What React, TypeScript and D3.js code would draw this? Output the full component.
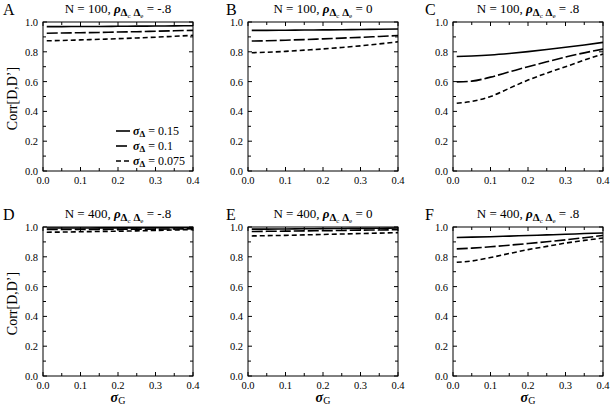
import { scaleLinear, line, curveMonotoneX, range } from 'd3';

const sigmaG = [0.01, 0.05, 0.1, 0.15, 0.2, 0.25, 0.3, 0.35, 0.4];

// one series per sigma_Delta: 0.15 (solid), 0.1 (long dash), 0.075 (short dash)
const aSolid = [0.969, 0.969, 0.970, 0.970, 0.971, 0.972, 0.973, 0.974, 0.975];
const aLong = [0.925, 0.926, 0.928, 0.930, 0.933, 0.935, 0.938, 0.941, 0.944];
const aShort = [0.874, 0.876, 0.880, 0.884, 0.888, 0.893, 0.898, 0.904, 0.910];

const bSolid = [0.944, 0.944, 0.945, 0.946, 0.947, 0.948, 0.950, 0.951, 0.953];
const bLong = [0.872, 0.874, 0.878, 0.882, 0.887, 0.892, 0.897, 0.903, 0.909];
const bShort = [0.794, 0.797, 0.803, 0.811, 0.819, 0.829, 0.840, 0.853, 0.867];

const cSolid = [0.768, 0.772, 0.779, 0.789, 0.801, 0.815, 0.830, 0.846, 0.863];
const cLong = [0.598, 0.603, 0.630, 0.665, 0.700, 0.733, 0.765, 0.793, 0.818];
const cShort = [0.455, 0.467, 0.500, 0.555, 0.610, 0.657, 0.700, 0.744, 0.785];

const dSolid = [0.993, 0.993, 0.993, 0.994, 0.994, 0.994, 0.995, 0.995, 0.995];
const dLong = [0.983, 0.983, 0.984, 0.984, 0.985, 0.986, 0.986, 0.987, 0.988];
const dShort = [0.965, 0.966, 0.968, 0.970, 0.972, 0.974, 0.977, 0.980, 0.983];

const eSolid = [0.986, 0.986, 0.987, 0.988, 0.989, 0.990, 0.991, 0.992, 0.993];
const eLong = [0.970, 0.971, 0.972, 0.974, 0.975, 0.977, 0.979, 0.980, 0.982];
const eShort = [0.940, 0.942, 0.944, 0.947, 0.950, 0.953, 0.956, 0.959, 0.962];

const fSolid = [0.930, 0.932, 0.935, 0.939, 0.943, 0.947, 0.951, 0.956, 0.960];
const fLong = [0.853, 0.858, 0.867, 0.878, 0.889, 0.901, 0.914, 0.928, 0.943];
const fShort = [0.763, 0.772, 0.795, 0.822, 0.848, 0.870, 0.892, 0.910, 0.926];

const panelLetters = ['A', 'B', 'C', 'D', 'E', 'F'];
const panelN = ['100', '100', '100', '400', '400', '400'];
const panelRho = ['-.8', '0', '.8', '-.8', '0', '.8'];
const panelSeries = [
  [aSolid, aLong, aShort],
  [bSolid, bLong, bShort],
  [cSolid, cLong, cShort],
  [dSolid, dLong, dShort],
  [eSolid, eLong, eShort],
  [fSolid, fLong, fShort],
];

const legendLabels = ['0.15', '0.1', '0.075'];
const dashes = ['none', '11,3', '5,3'];

const xTicks = [0, 0.1, 0.2, 0.3, 0.4];
const yTicks = [0, 0.2, 0.4, 0.6, 0.8, 1.0];

// layout
const lefts = [43, 248, 453];
const tops = [22, 227];
const letterX = [3, 226, 425];
const W = 150;
const H = 149;
const font = '"Liberation Serif", "Times New Roman", serif';

const Panel = ({ idx }: { idx: number }) => {
  const col = idx % 3;
  const row = Math.floor(idx / 3);
  const x0 = lefts[col];
  const y0 = tops[row];
  const x = scaleLinear().domain([0, 0.4]).range([x0, x0 + W]);
  const y = scaleLinear().domain([0, 1]).range([y0 + H, y0]);
  const gen = line<number>()
    .x((_, i) => x(sigmaG[i]))
    .y((d) => y(d))
    .curve(curveMonotoneX);

  const minorX = range(0, 9).map((i) => i * 0.05);
  const minorY = range(0, 11).map((i) => i * 0.1);
  const cx = x0 + W / 2;

  return (
    <g>
      {/* panel letter */}
      <text x={letterX[col]} y={y0 - 7.5} fontSize={16} fontFamily={font}>
        {panelLetters[idx]}
      </text>
      {/* title */}
      <text x={cx} y={y0 - 9} fontSize={13} fontFamily={font} textAnchor="middle">
        <tspan>N = {panelN[idx]}, </tspan>
        <tspan fontWeight="bold" fontStyle="italic">ρ</tspan>
        <tspan fontWeight="bold" fontSize={11} dy={3}>Δ</tspan>
        <tspan fontSize={7} dy={1.5}>c</tspan>
        <tspan fontWeight="bold" fontSize={11} dy={-1.5}> Δ</tspan>
        <tspan fontSize={7} dy={1.5}>e</tspan>
        <tspan dy={-4.5}> = {panelRho[idx]}</tspan>
      </text>

      {/* curves */}
      {panelSeries[idx].map((s, i) => (
        <path
          key={i}
          d={gen(s) || ''}
          fill="none"
          stroke="#000"
          strokeWidth={1.6}
          strokeDasharray={dashes[i]}
        />
      ))}

      {/* frame */}
      <rect x={x0} y={y0} width={W} height={H} fill="none" stroke="#000" strokeWidth={1} />

      {/* ticks, inward on all four sides */}
      {minorX.map((t, i) => {
        const len = i % 2 === 0 ? 4 : 3;
        return (
          <g key={'x' + i} stroke="#000" strokeWidth={1}>
            <line x1={x(t)} x2={x(t)} y1={y0 + H} y2={y0 + H - len} />
            <line x1={x(t)} x2={x(t)} y1={y0} y2={y0 + len} />
          </g>
        );
      })}
      {minorY.map((t, i) => {
        const len = i % 2 === 0 ? 4 : 3;
        return (
          <g key={'y' + i} stroke="#000" strokeWidth={1}>
            <line x1={x0} x2={x0 + len} y1={y(t)} y2={y(t)} />
            <line x1={x0 + W} x2={x0 + W - len} y1={y(t)} y2={y(t)} />
          </g>
        );
      })}

      {/* tick labels */}
      {xTicks.map((t) => (
        <text key={'xl' + t} x={x(t)} y={y0 + H + 13} fontSize={10.5} fontFamily={font} textAnchor="middle">
          {t.toFixed(1)}
        </text>
      ))}
      {yTicks.map((t) => (
        <text key={'yl' + t} x={x0 - 5} y={y(t) + 4} fontSize={10.5} fontFamily={font} textAnchor="end">
          {t.toFixed(1)}
        </text>
      ))}

      {/* axis labels */}
      {col === 0 && (
        <text
          transform={`translate(17,${y0 + H / 2 + 2}) rotate(-90)`}
          fontSize={14}
          fontFamily={font}
          textAnchor="middle"
        >
          Corr[D,D’]
        </text>
      )}
      {row === 1 && (
        <text x={cx} y={y0 + H + 26} fontSize={14} fontFamily={font} textAnchor="middle">
          <tspan fontWeight="bold" fontStyle="italic">σ</tspan>
          <tspan fontSize={10} dy={2}>G</tspan>
        </text>
      )}

      {/* legend in panel A */}
      {idx === 0 &&
        legendLabels.map((lab, i) => {
          const ly = y0 + 109 + i * 15;
          return (
            <g key={'lg' + i}>
              <line
                x1={x0 + 73}
                x2={x0 + 87}
                y1={ly}
                y2={ly}
                stroke="#000"
                strokeWidth={1.6}
                strokeDasharray={dashes[i]}
              />
              <text x={x0 + 90} y={ly + 4} fontSize={12} fontFamily={font}>
                <tspan fontWeight="bold" fontStyle="italic">σ</tspan>
                <tspan fontWeight="bold" fontSize={9} dy={2}>Δ</tspan>
                <tspan dy={-2}> = {lab}</tspan>
              </text>
            </g>
          );
        })}
    </g>
  );
};

export default function App() {
  return (
    <svg
      width={610}
      height={407}
      style={{ position: 'absolute', left: 0, top: 0, background: '#fff' }}
    >
      {panelLetters.map((_, i) => (
        <Panel key={i} idx={i} />
      ))}
    </svg>
  );
}
